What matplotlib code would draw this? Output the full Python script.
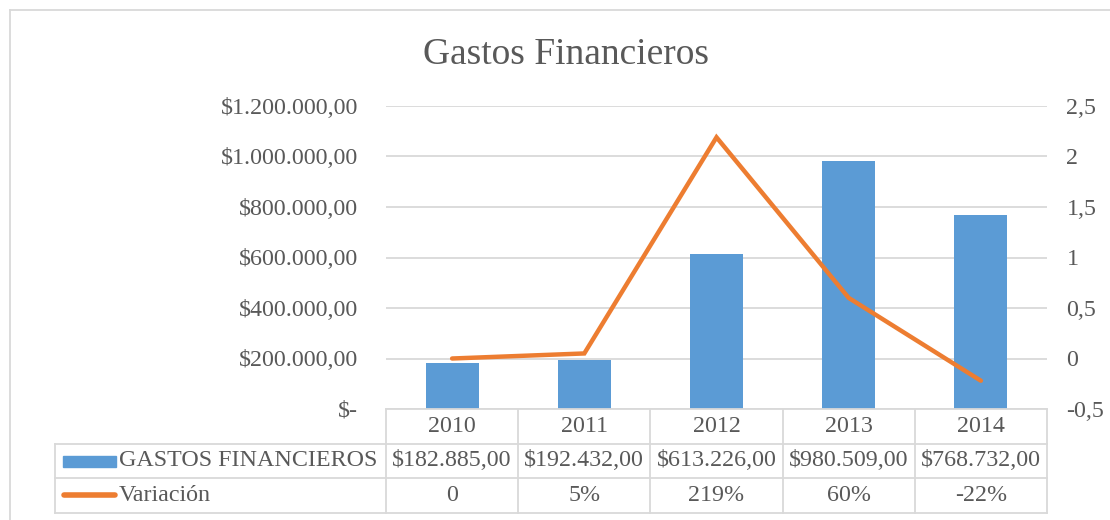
import matplotlib
matplotlib.use("Agg")
import matplotlib.pyplot as plt
from matplotlib.lines import Line2D
from matplotlib.patches import Rectangle
from matplotlib.transforms import blended_transform_factory
from matplotlib.ticker import FuncFormatter, MultipleLocator

years = ["2010", "2011", "2012", "2013", "2014"]
gastos = [182885, 192432, 613226, 980509, 768732]
gastos_labels = ["$182.885,00", "$192.432,00", "$613.226,00", "$980.509,00", "$768.732,00"]
variacion = [0.0, 0.05, 2.19, 0.60, -0.22]
variacion_labels = ["0", "5%", "219%", "60%", "-22%"]
series_names = ["GASTOS FINANCIEROS", "Variación"]
title = "Gastos Financieros"

W, H = 1110, 520
BLUE = "#5B9BD5"
ORANGE = "#ED7D31"
TXT = "#595959"
GRID = "#D9D9D9"
FONT = "Liberation Serif"

plt.rcParams["font.family"] = [FONT, "DejaVu Serif"]

fig = plt.figure(figsize=(W / 100, H / 100), dpi=100)
fig.patch.set_facecolor("white")

def fx(px):
    return px / W

def fy(py):
    return 1 - py / H

fs = 17.3

# plot area in pixels
L, R, T, B = 386, 1047, 106, 409
ax = fig.add_axes([fx(L), fy(B), fx(R - L), (B - T) / H])
ax2 = ax.twinx()

x = list(range(len(years)))
ax.bar(x, gastos, width=0.4, color=BLUE, zorder=2)
ax.set_xlim(-0.5, len(years) - 0.5)
ax.set_ylim(0, 1200000)
ax.yaxis.set_major_locator(MultipleLocator(200000))

def money(v, pos):
    if v == 0:
        return "$-"
    s = f"{int(round(v)):,}".replace(",", ".")
    return f"${s},00"

ax.yaxis.set_major_formatter(FuncFormatter(money))
ax.grid(axis="y", color=GRID, linewidth=1.3, zorder=0)
ax.set_axisbelow(True)
ax.set_xticks([])
for sp in ax.spines.values():
    sp.set_visible(False)
for sp in ax2.spines.values():
    sp.set_visible(False)
ax.tick_params(axis="y", length=0, pad=20, labelsize=fs, labelcolor=TXT)

ax2.plot(x, variacion, color=ORANGE, linewidth=3.2, solid_capstyle="round",
         solid_joinstyle="miter", zorder=3)
ax2.set_ylim(-0.5, 2.5)
ax2.yaxis.set_major_locator(MultipleLocator(0.5))

def dec(v, pos):
    if abs(v - round(v)) < 1e-9:
        return f"{int(round(v))}"
    return f"{v:.1f}".replace(".", ",")

ax2.yaxis.set_major_formatter(FuncFormatter(dec))
ax2.tick_params(axis="y", length=0, pad=14, labelsize=fs, labelcolor=TXT)
ax2.set_xticks([])

# outer chart border (left and top visible)
fig.add_artist(Line2D([fx(10), fx(10)], [fy(10), 0], color=GRID, linewidth=1.3))
fig.add_artist(Line2D([fx(10), 1], [fy(10), fy(10)], color=GRID, linewidth=1.3))

# title
fig.text(fx(566), fy(55), title, ha="center", va="center", fontsize=27, color=TXT)

# data table
tr = blended_transform_factory(ax.transData, fig.transFigure)
row_y = [409, 444, 478, 513]
tab_left = 55
lw = 1.3
fig.add_artist(Line2D([-0.5, 4.5], [fy(row_y[0])] * 2, transform=tr, color=GRID, linewidth=lw))
for ry in row_y[1:]:
    fig.add_artist(Line2D([fx(tab_left), fx(R)], [fy(ry)] * 2, color=GRID, linewidth=lw))
for i in range(len(years) + 1):
    fig.add_artist(Line2D([i - 0.5, i - 0.5], [fy(row_y[0]), fy(row_y[3])], transform=tr,
                          color=GRID, linewidth=lw))
fig.add_artist(Line2D([fx(tab_left)] * 2, [fy(row_y[1]), fy(row_y[3])], color=GRID, linewidth=lw))

for i in x:
    fig.text(i, fy((row_y[0] + row_y[1]) / 2), years[i], transform=tr, ha="center",
             va="center", fontsize=fs, color=TXT)
    fig.text(i, fy((row_y[1] + row_y[2]) / 2), gastos_labels[i], transform=tr, ha="center",
             va="center", fontsize=fs, color=TXT)
    fig.text(i, fy((row_y[2] + row_y[3]) / 2), variacion_labels[i], transform=tr, ha="center",
             va="center", fontsize=fs, color=TXT)

# legend keys in table
fig.add_artist(Rectangle((fx(63), fy(467)), fx(53), 11 / H, color=BLUE))
fig.add_artist(Line2D([fx(64), fx(115)], [fy(495)] * 2, color=ORANGE, linewidth=4,
                      solid_capstyle="round"))
fig.text(fx(119), fy((row_y[1] + row_y[2]) / 2), series_names[0], ha="left", va="center",
         fontsize=fs, color=TXT)
fig.text(fx(119), fy((row_y[2] + row_y[3]) / 2), series_names[1], ha="left", va="center",
         fontsize=fs, color=TXT)

fig.savefig("out.png", dpi=100, facecolor="white")
